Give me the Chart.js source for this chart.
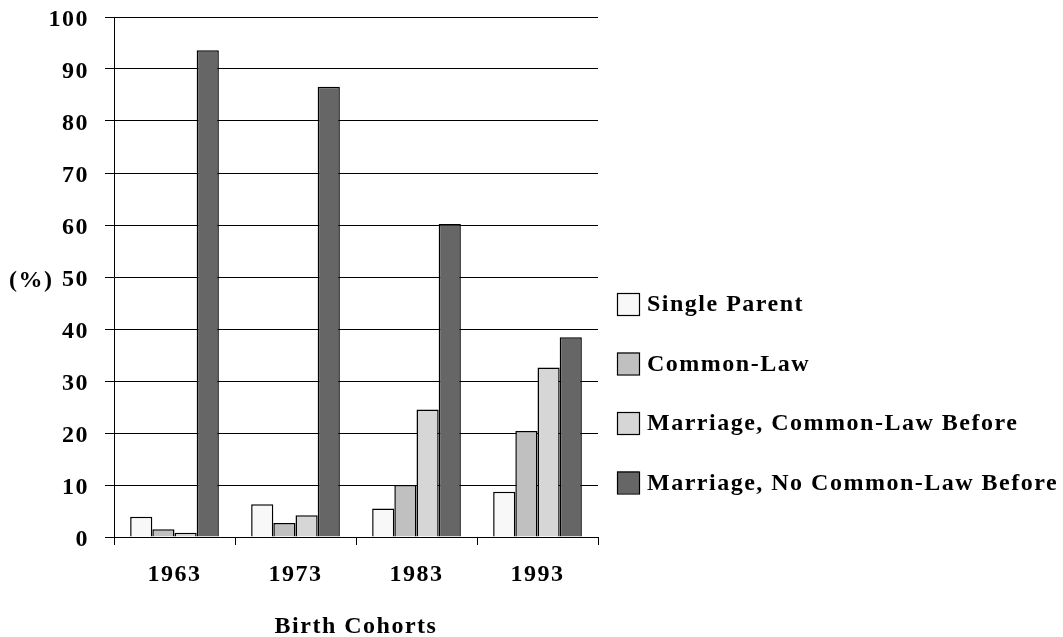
<!DOCTYPE html>
<html>
<head>
<meta charset="utf-8">
<script src="https://cdn.jsdelivr.net/npm/chart.js@4.4.1/dist/chart.umd.min.js"></script>
<style>
  html, body { margin: 0; padding: 0; background: #ffffff; }
  #wrap { width: 1063px; height: 637px; }
</style>
</head>
<body>
<div id="wrap"><canvas id="c" width="1063" height="637"></canvas></div>
<script>
const categories = ['1963', '1973', '1983', '1993'];
const seriesNames = ['Single Parent', 'Common-Law', 'Marriage, Common-Law Before', 'Marriage, No Common-Law Before'];
const singleParent = [3.9, 6.3, 5.5, 8.7];
const commonLaw = [1.5, 2.7, 10.0, 20.4];
const marriageCommonLawBefore = [0.8, 4.2, 24.5, 32.6];
const marriageNoCommonLawBefore = [93.6, 86.6, 60.2, 38.4];
const yTicks = [0, 10, 20, 30, 40, 50, 60, 70, 80, 90, 100];
const xTitle = 'Birth Cohorts';
const yTitle = '(%)';

const fillColors = ['#f8f8f8', '#c0c0c0', '#d6d6d6', '#666666'];
const FONT = '"Liberation Serif", "Times New Roman", serif';
const SPACING = '1.5px';

const seriesValues = [singleParent, commonLaw, marriageCommonLawBefore, marriageNoCommonLawBefore];

const textPlugin = {
  id: 'textPlugin',
  beforeDraw(chart) {
    chart.ctx.letterSpacing = SPACING;
  },
  afterDraw(chart) {
    const ctx = chart.ctx;
    const area = chart.chartArea;
    const ys = chart.scales.y;
    ctx.save();
    ctx.letterSpacing = SPACING;
    ctx.fillStyle = '#000';
    ctx.font = 'bold 24px ' + FONT;
    // y title
    ctx.textAlign = 'left';
    ctx.textBaseline = 'middle';
    ctx.fillText(yTitle, 9, ys.getPixelForValue(50) + 4);
    // x title
    ctx.textAlign = 'center';
    ctx.fillText(xTitle, (area.left + area.right) / 2, 627);
    // legend
    const boxX = 617, box = 22, textX = 647;
    const firstY = 304, step = 59.5;
    chart.data.datasets.forEach((ds, i) => {
      const cy = firstY + i * step;
      ctx.fillStyle = ds.backgroundColor;
      ctx.fillRect(boxX, cy - box / 2, box, box);
      ctx.lineWidth = 1.2;
      ctx.strokeStyle = '#000';
      ctx.strokeRect(boxX + 0.5, cy - box / 2 + 0.5, box, box);
      ctx.fillStyle = '#000';
      ctx.textAlign = 'left';
      ctx.textBaseline = 'middle';
      ctx.fillText(ds.label, textX, cy + 1);
    });
    ctx.restore();
  }
};

new Chart(document.getElementById('c'), {
  type: 'bar',
  data: {
    labels: categories,
    datasets: seriesNames.map((name, i) => ({
      label: name,
      data: seriesValues[i],
      backgroundColor: fillColors[i],
      borderColor: '#000000',
      borderWidth: 1.5,
      categoryPercentage: 0.733,
      barPercentage: 1.0
    }))
  },
  options: {
    responsive: false,
    animation: false,
    devicePixelRatio: 1,
    layout: { padding: { left: 0, right: 465, top: 17, bottom: 0 } },
    plugins: {
      legend: { display: false },
      tooltip: { enabled: false },
      title: { display: false }
    },
    scales: {
      x: {
        afterFit(scale) { scale.height = 100; scale.paddingLeft = 0; scale.paddingRight = 0; },
        grid: {
          display: true,
          drawOnChartArea: false,
          drawTicks: true,
          tickLength: 8,
          color: '#000000',
          lineWidth: 1,
          offset: true
        },
        border: { display: true, color: '#000000', width: 1 },
        ticks: {
          color: '#000000',
          font: { family: FONT, size: 24, weight: 'bold' },
          padding: 15
        }
      },
      y: {
        min: 0,
        max: 100,
        afterFit(scale) { scale.width = 114; scale.paddingTop = 0; scale.paddingBottom = 0; },
        afterBuildTicks(scale) { scale.ticks = yTicks.map(v => ({ value: v })); },
        grid: {
          display: true,
          drawOnChartArea: true,
          drawTicks: true,
          tickLength: 9,
          color: '#000000',
          lineWidth: 1
        },
        border: { display: true, color: '#000000', width: 1 },
        ticks: {
          color: '#000000',
          font: { family: FONT, size: 24, weight: 'bold' },
          padding: 16,
          labelOffset: 3
        }
      }
    }
  },
  plugins: [textPlugin]
});
</script>
</body>
</html>
